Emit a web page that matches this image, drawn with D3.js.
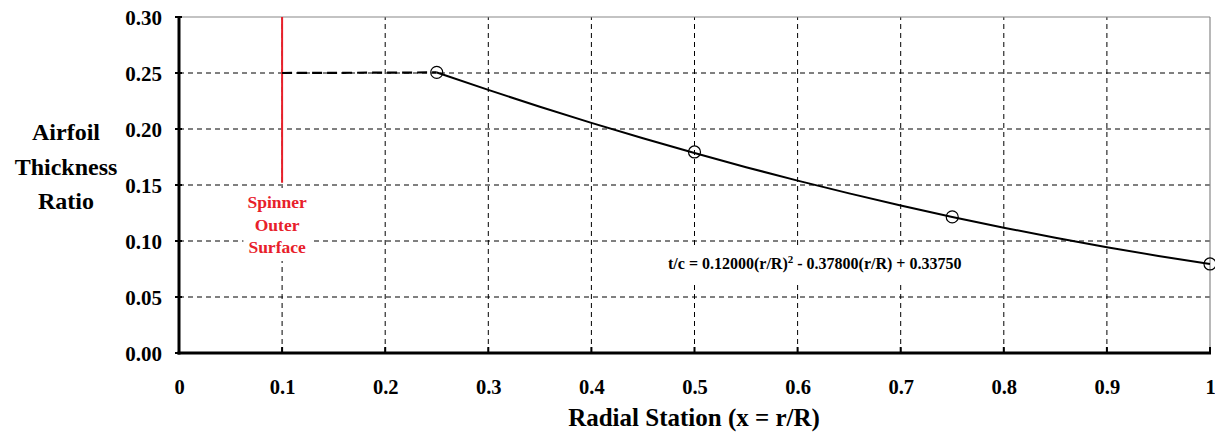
<!DOCTYPE html>
<html lang="en">
<head>
<meta charset="UTF-8">
<title>Airfoil Thickness Ratio</title>
<script src="https://d3js.org/d3.v7.min.js"></script>
<style>
    body { margin: 0; background: #fff; }
    svg { display: block; font-family: 'Liberation Serif', 'Times New Roman', serif; font-weight: bold; }
</style>
</head>
<body>
<svg id="chart" width="1215" height="432"></svg>
<script>
    // values
    const xTicks = [0, 0.1, 0.2, 0.3, 0.4, 0.5, 0.6, 0.7, 0.8, 0.9, 1];
    const yTicks = [0, 0.05, 0.10, 0.15, 0.20, 0.25, 0.30];

    // dashed extrapolation inside the spinner region
    const hubLine = [
        { x: 0.10, y: 0.2500 },
        { x: 0.25, y: 0.2505 }
    ];

    // solid fitted curve
    const curveX = [0.25, 0.30, 0.35, 0.40, 0.45, 0.50, 0.55, 0.60, 0.65, 0.70, 0.75, 0.80, 0.85, 0.90, 0.95, 1.00];
    const curveY = [0.2505, 0.2349, 0.2199, 0.2055, 0.1917, 0.1785, 0.1659, 0.1539, 0.1425, 0.1317, 0.1215, 0.1119, 0.1029, 0.0945, 0.0867, 0.0795];

    // design stations (circle markers)
    const stationX = [0.25, 0.50, 0.75, 1.00];
    const stationY = [0.2505, 0.1795, 0.1215, 0.0795];

    // spinner marker
    const spinnerX = 0.1;
    const spinnerTop = 0.30;
    const spinnerBottom = 0.152;
    const spinnerLabel = ['Spinner', 'Outer', 'Surface'];

    const yTitle = ['Airfoil', 'Thickness', 'Ratio'];
    const xTitle = 'Radial Station (x = r/R)';

    const margin = { left: 179, right: 5, top: 17, bottom: 79 };
    const width = 1215, height = 432;

    const svg = d3.select('#chart');

    const x = d3.scaleLinear().domain([0, 1]).range([margin.left, width - margin.right]);
    const y = d3.scaleLinear().domain([0, 0.30]).range([height - margin.bottom, margin.top]);

    // grid
    const grid = svg.append('g');
    grid.selectAll('.vg')
        .data(xTicks.filter(d => d > 0 && d < 1))
        .join('line')
        .attr('x1', d => x(d)).attr('x2', d => x(d))
        .attr('y1', y(0)).attr('y2', y(0.30))
        .attr('stroke', '#000').attr('stroke-width', 1)
        .attr('stroke-dasharray', '5,4');
    grid.selectAll('.hg')
        .data(yTicks.filter(d => d > 0 && d < 0.30))
        .join('line')
        .attr('x1', x(0)).attr('x2', x(1))
        .attr('y1', d => y(d)).attr('y2', d => y(d))
        .attr('stroke', '#000').attr('stroke-width', 1)
        .attr('stroke-dasharray', '5,4');

    // top and right frame
    svg.append('line')
        .attr('x1', x(0)).attr('x2', x(1))
        .attr('y1', y(0.30)).attr('y2', y(0.30))
        .attr('stroke', '#888').attr('stroke-width', 1.2);
    svg.append('line')
        .attr('x1', x(1)).attr('x2', x(1))
        .attr('y1', y(0.30)).attr('y2', y(0))
        .attr('stroke', '#888').attr('stroke-width', 1.2);

    // axes
    const xAxis = svg.append('g')
        .attr('transform', `translate(0,${y(0)})`)
        .call(d3.axisBottom(x).tickValues(xTicks).tickSize(0).tickPadding(26)
            .tickFormat(d => d === 0 ? '0' : d === 1 ? '1' : d3.format('.1f')(d)));
    xAxis.select('.domain').remove();
    xAxis.selectAll('.tick text')
        .attr('font-size', 20.5).attr('font-family', "'Liberation Serif', serif")
        .attr('font-weight', 'bold').attr('fill', '#000');

    const yAxis = svg.append('g')
        .attr('transform', `translate(${x(0)},0)`)
        .call(d3.axisLeft(y).tickValues(yTicks).tickSize(0).tickPadding(17)
            .tickFormat(d3.format('.2f')));
    yAxis.select('.domain').remove();
    yAxis.selectAll('.tick text')
        .attr('font-size', 21).attr('font-family', "'Liberation Serif', serif")
        .attr('font-weight', 'bold').attr('fill', '#000').attr('dy', '0.35em');

    // tick marks crossing the axes
    svg.append('g').selectAll('line')
        .data(xTicks)
        .join('line')
        .attr('x1', d => x(d)).attr('x2', d => x(d))
        .attr('y1', y(0) - 6).attr('y2', y(0) + 1)
        .attr('stroke', '#000').attr('stroke-width', 2);
    svg.append('g').selectAll('line')
        .data(yTicks)
        .join('line')
        .attr('x1', x(0) - 4).attr('x2', x(0) + 3)
        .attr('y1', d => y(d)).attr('y2', d => y(d))
        .attr('stroke', '#000').attr('stroke-width', 2);

    svg.append('line')
        .attr('x1', x(0)).attr('x2', x(0))
        .attr('y1', y(0.30) - 1).attr('y2', y(0) + 1.5)
        .attr('stroke', '#000').attr('stroke-width', 3);
    svg.append('line')
        .attr('x1', x(0) - 1.5).attr('x2', x(1) + 1)
        .attr('y1', y(0)).attr('y2', y(0))
        .attr('stroke', '#000').attr('stroke-width', 3);

    // label with a white box behind it, so grid lines break around it
    function boxed(g, pad) {
        const b = g.node().getBBox();
        g.insert('rect', ':first-child')
            .attr('x', b.x - pad[0]).attr('y', b.y - pad[1])
            .attr('width', b.width + 2 * pad[0]).attr('height', b.height + 2 * pad[1])
            .attr('fill', '#fff');
    }

    // spinner surface
    svg.append('line')
        .attr('x1', x(spinnerX)).attr('x2', x(spinnerX))
        .attr('y1', y(spinnerTop)).attr('y2', y(spinnerBottom))
        .attr('stroke', '#e8202a').attr('stroke-width', 2);
    const spin = svg.append('g');
    spin.append('text')
        .attr('x', x(spinnerX) - 5).attr('y', 208)
        .attr('text-anchor', 'middle')
        .attr('font-size', 17.5).attr('fill', '#e8202a')
        .selectAll('tspan')
        .data(spinnerLabel)
        .join('tspan')
        .attr('x', x(spinnerX) - 5)
        .attr('dy', (d, i) => i === 0 ? 0 : 22.5)
        .text(d => d);
    boxed(spin, [4, 4]);

    // equation
    const eqG = svg.append('g');
    const eq = eqG.append('text')
        .attr('x', 668).attr('y', 269)
        .attr('font-size', 16).attr('fill', '#000');
    eq.append('tspan').text('t/c = 0.12000(r/R)');
    eq.append('tspan').attr('font-size', 11).attr('dy', -6).text('2');
    eq.append('tspan').attr('dy', 6).text(' - 0.37800(r/R) + 0.33750');
    boxed(eqG, [8, 8]);

    // curves
    const line = d3.line().x(d => x(d.x)).y(d => y(d.y));
    svg.append('path')
        .datum(hubLine)
        .attr('d', line)
        .attr('fill', 'none').attr('stroke', '#000').attr('stroke-width', 2.2)
        .attr('stroke-dasharray', '10,5');

    const curveData = curveX.map((v, i) => ({ x: v, y: curveY[i] }));
    svg.append('path')
        .datum(curveData)
        .attr('d', line.curve(d3.curveMonotoneX))
        .attr('fill', 'none').attr('stroke', '#000').attr('stroke-width', 2);

    svg.append('g').selectAll('circle')
        .data(stationX.map((v, i) => ({ x: v, y: stationY[i] })))
        .join('circle')
        .attr('cx', d => x(d.x)).attr('cy', d => y(d.y))
        .attr('r', 6)
        .attr('fill', 'none').attr('stroke', '#000').attr('stroke-width', 1.2);

    // titles
    svg.append('text')
        .attr('x', 694).attr('y', 426)
        .attr('text-anchor', 'middle')
        .attr('font-size', 25).attr('fill', '#000')
        .text(xTitle);

    svg.append('text')
        .attr('x', 66).attr('y', 140)
        .attr('text-anchor', 'middle')
        .attr('font-size', 24).attr('fill', '#000')
        .selectAll('tspan')
        .data(yTitle)
        .join('tspan')
        .attr('x', 66)
        .attr('dy', (d, i) => i === 0 ? 0 : 34.5)
        .text(d => d);
</script>
</body>
</html>
